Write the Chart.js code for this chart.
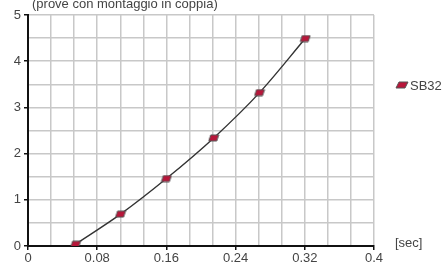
<!DOCTYPE html>
<html>
<head>
<meta charset="utf-8">
<script src="https://cdn.jsdelivr.net/npm/chart.js@4"></script>
<style>
  html, body { margin: 0; padding: 0; background: #fff; }
  #wrap { width: 447px; height: 263px; position: relative; }
</style>
</head>
<body>
<div id="wrap"><canvas id="chart" width="447" height="263"></canvas></div>
<script>
// Data
const seriesName = 'SB32';
const timeValues = [0.055, 0.107, 0.16, 0.2147, 0.2677, 0.3205];
const loadValues = [0.04, 0.69, 1.46, 2.34, 3.32, 4.49];
const xTickLabels = ['0', '0.08', '0.16', '0.24', '0.32', '0.4'];
const yTickLabels = ['0', '1', '2', '3', '4', '5'];
const titleText = '(prove con montaggio in coppia)';
const unitText = '[sec]';

const FONT = '13px "Liberation Sans", Arial, sans-serif';
const TEXT = '#444';
const RED = '#b8163a';

// parallelogram marker
function makeMarker(w, h, skew) {
  const c = document.createElement('canvas');
  c.width = w + skew + 2; c.height = h + 2;
  const g = c.getContext('2d');
  g.beginPath();
  g.moveTo(1 + skew, 1);
  g.lineTo(1 + skew + w, 1);
  g.lineTo(1 + w, 1 + h);
  g.lineTo(1, 1 + h);
  g.closePath();
  g.fillStyle = RED;
  g.fill();
  g.lineWidth = 1;
  g.strokeStyle = '#555';
  g.stroke();
  return c;
}
const marker = makeMarker(8, 6, 2);
const legendMarker = makeMarker(9, 6, 3);

const extras = {
  id: 'extras',
  afterDraw(chart) {
    const ctx = chart.ctx;
    ctx.save();
    ctx.font = FONT;
    ctx.fillStyle = TEXT;
    ctx.textBaseline = 'middle';
    ctx.textAlign = 'left';
    ctx.fillText(titleText, 32, 4);
    ctx.fillText(unitText, 395, 243);
    ctx.drawImage(legendMarker, 395, 81);
    ctx.fillText(seriesName, 410, 86);
    ctx.restore();
  }
};

const xStep = 0.4 / 15;

new Chart(document.getElementById('chart'), {
  type: 'line',
  data: {
    datasets: [{
      label: seriesName,
      data: timeValues.map((t, i) => ({ x: t, y: loadValues[i] })),
      borderColor: '#333',
      borderWidth: 1.4,
      cubicInterpolationMode: 'monotone',
      pointStyle: marker,
      pointRadius: 5,
      pointHoverRadius: 5
    }]
  },
  options: {
    responsive: false,
    animation: false,
    layout: { padding: { top: 15, right: 73, left: 0, bottom: 0 } },
    plugins: { legend: { display: false }, tooltip: { enabled: false } },
    scales: {
      x: {
        type: 'linear',
        min: 0,
        max: 0.4,
        afterBuildTicks(scale) {
          const t = [];
          for (let i = 0; i <= 15; i++) t.push({ value: i * xStep });
          scale.ticks = t;
        },
        afterFit(scale) { scale.height = 17; },
        ticks: {
          autoSkip: false,
          maxRotation: 0,
          padding: 1,
          font: { family: '"Liberation Sans", Arial, sans-serif', size: 13 },
          color: TEXT,
          callback: (v, i) => (i % 3 === 0 ? xTickLabels[i / 3] : '')
        },
        grid: {
          color: '#c8c8c8',
          lineWidth: 1.5,
          tickLength: 4,
          tickColor: ctx => (ctx.index % 3 === 0 ? '#111' : 'rgba(0,0,0,0)'),
          tickWidth: 1.5
        },
        border: { color: '#111', width: 2 }
      },
      y: {
        min: 0,
        max: 5,
        afterBuildTicks(scale) {
          const t = [];
          for (let i = 0; i <= 10; i++) t.push({ value: i * 0.5 });
          scale.ticks = t;
        },
        afterFit(scale) { scale.width = 28; },
        ticks: {
          autoSkip: false,
          padding: 3,
          font: { family: '"Liberation Sans", Arial, sans-serif', size: 13 },
          color: TEXT,
          callback: (v, i) => (i % 2 === 0 ? yTickLabels[i / 2] : '')
        },
        grid: {
          color: '#c8c8c8',
          lineWidth: 1.5,
          tickLength: 4,
          tickColor: ctx => (ctx.index % 2 === 0 ? '#111' : 'rgba(0,0,0,0)'),
          tickWidth: 1.5
        },
        border: { color: '#111', width: 2 }
      }
    }
  },
  plugins: [extras]
});
</script>
</body>
</html>
